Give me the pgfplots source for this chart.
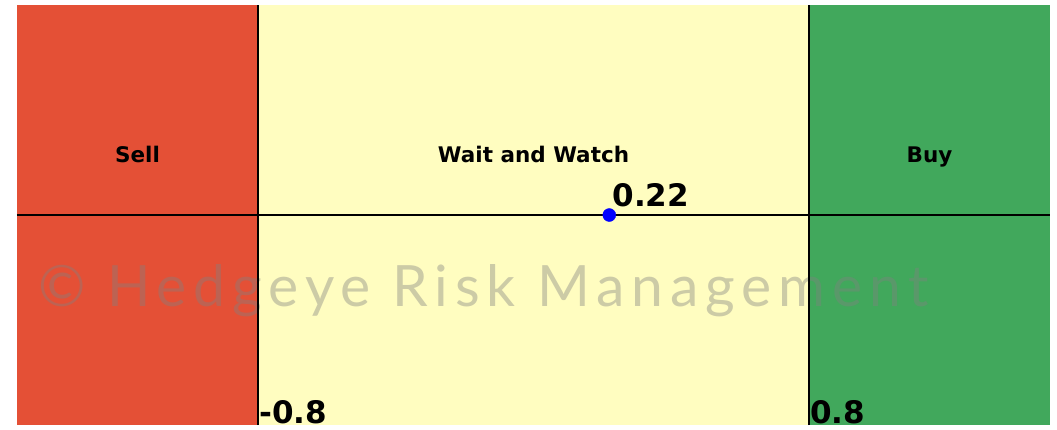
\documentclass[border=0pt]{standalone}
\usepackage{pgfplots}
\pgfplotsset{compat=1.18}
\usepackage{fontspec}
\setmainfont{DejaVu Sans}
\newfontfamily\wm[LetterSpace=12.2]{Lato}
\definecolor{sellc}{HTML}{E45036}
\definecolor{waitc}{HTML}{FFFDC0}
\definecolor{buyc}{HTML}{41A85C}
\begin{document}
\begin{tikzpicture}
\begin{axis}[
  scale only axis, width=1033pt, height=420pt,
  xmin=-1.5, xmax=1.5, ymin=-1, ymax=1,
  hide axis, clip=false]
\addplot[fill=sellc, draw=none] coordinates {(-1.5,-1) (-0.8,-1) (-0.8,1) (-1.5,1)} -- cycle;
\addplot[fill=waitc, draw=none] coordinates {(-0.8,-1) (0.8,-1) (0.8,1) (-0.8,1)} -- cycle;
\addplot[fill=buyc, draw=none] coordinates {(0.8,-1) (1.5,-1) (1.5,1) (0.8,1)} -- cycle;
\node[anchor=base west, text=gray, opacity=0.4, font=\wm\fontsize{57}{60}\selectfont, inner sep=0pt] at (axis cs:-1.439,-0.435) {© Hedgeye Risk Management};
\addplot[black, line width=2.8pt] coordinates {(-0.8,-1) (-0.8,1)};
\addplot[black, line width=2.8pt] coordinates {(0.8,-1) (0.8,1)};
\addplot[black, line width=2.8pt] coordinates {(-1.5,0) (1.5,0)};
\addplot[only marks, mark=*, mark size=6.5pt, color=blue] coordinates {(0.22,0)};
\node[anchor=base, font=\bfseries\fontsize{21.5}{24}\selectfont] at (axis cs:-1.15,0.249) {Sell};
\node[anchor=base, font=\bfseries\fontsize{21.5}{24}\selectfont] at (axis cs:0,0.249) {Wait and Watch};
\node[anchor=base, font=\bfseries\fontsize{21.5}{24}\selectfont] at (axis cs:1.15,0.249) {Buy};
\node[anchor=base west, inner sep=0pt, font=\bfseries\fontsize{31}{36}\selectfont] at ([shift={(3pt,9pt)}]axis cs:0.22,0) {0.22};
\node[anchor=base west, inner sep=0pt, font=\bfseries\fontsize{31}{36}\selectfont] at ([shift={(1pt,2pt)}]axis cs:-0.8,-1) {-0.8};
\node[anchor=base west, inner sep=0pt, font=\bfseries\fontsize{31}{36}\selectfont] at ([shift={(1pt,2pt)}]axis cs:0.8,-1) {0.8};
\coordinate (ll) at (rel axis cs:0,0);
\coordinate (ur) at (rel axis cs:1,1);
\end{axis}
\pgfresetboundingbox
\path[use as bounding box] ([shift={(-17pt,-4pt)}]ll) rectangle ([shift={(7pt,5pt)}]ur);
\end{tikzpicture}
\end{document}
